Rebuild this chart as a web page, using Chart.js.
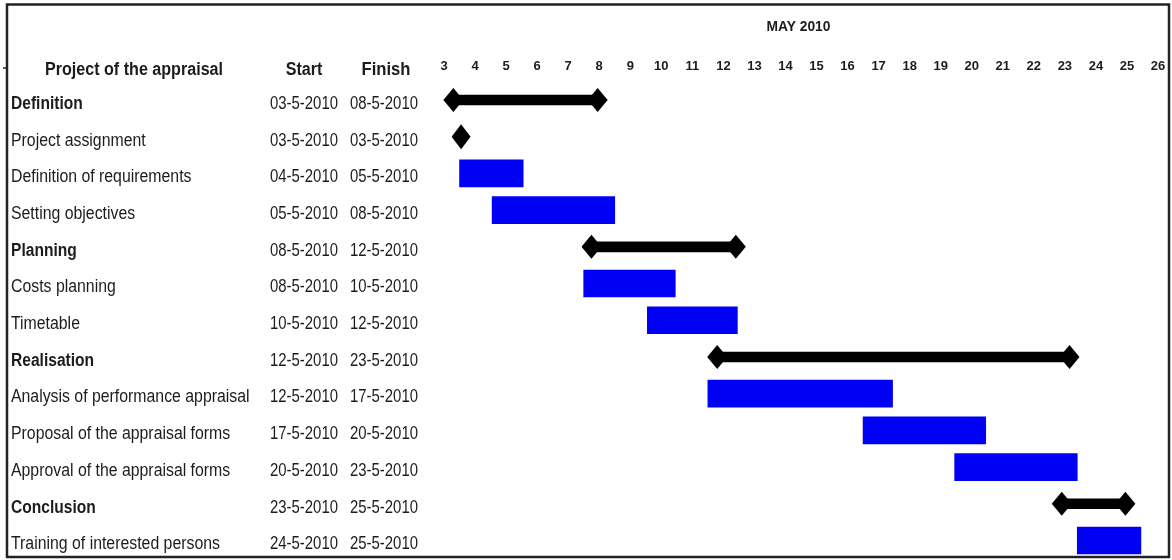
<!DOCTYPE html>
<html>
<head>
<meta charset="utf-8">
<title>Project of the appraisal - Gantt</title>
<script src="https://cdn.jsdelivr.net/npm/chart.js@4/dist/chart.umd.min.js"></script>
<style>
  html, body { margin: 0; padding: 0; background: #fff; }
  #wrap { width: 1172px; height: 560px; }
</style>
</head>
<body>
<div id="wrap"><canvas id="gantt" width="1172" height="560"></canvas></div>
<script>
// rows of the table / chart
var tasks = [
  "Definition", "Project assignment", "Definition of requirements", "Setting objectives",
  "Planning", "Costs planning", "Timetable",
  "Realisation", "Analysis of performance appraisal", "Proposal of the appraisal forms", "Approval of the appraisal forms",
  "Conclusion", "Training of interested persons"
];
var startDates = [
  "03-5-2010", "03-5-2010", "04-5-2010", "05-5-2010",
  "08-5-2010", "08-5-2010", "10-5-2010",
  "12-5-2010", "12-5-2010", "17-5-2010", "20-5-2010",
  "23-5-2010", "24-5-2010"
];
var finishDates = [
  "08-5-2010", "03-5-2010", "05-5-2010", "08-5-2010",
  "12-5-2010", "10-5-2010", "12-5-2010",
  "23-5-2010", "17-5-2010", "20-5-2010", "23-5-2010",
  "25-5-2010", "25-5-2010"
];
var days = [3, 4, 5, 6, 7, 8, 9, 10, 11, 12, 13, 14, 15, 16, 17, 18, 19, 20, 21, 22, 23, 24, 25, 26];

// bar extents in days (blue task bars)
var taskStart = [null, null, 3.5, 4.55, null, 7.5, 9.55, null, 11.5, 16.5, 19.45, null, 23.4];
var taskEnd   = [null, null, 5.55, 8.5, null, 10.45, 12.45, null, 17.45, 20.45, 23.4, null, 25.45];
// summary arrows (black), from head centre to head centre
var summaryStart = [3.3, null, null, null, 7.75, null, null, 11.8, null, null, null, 22.9, null];
var summaryEnd   = [7.95, null, null, null, 12.4, null, null, 23.15, null, null, null, 24.95, null];
// milestone diamond
var milestone = [null, 3.55, null, null, null, null, null, null, null, null, null, null, null];

var fam = '"Liberation Sans", Arial, sans-serif';
var textColor = '#1c1c1c';

function pairs(a, b) {
  return a.map(function(v, i) { return v == null ? null : [v, b[i]]; });
}

function diamond(ctx, cx, cy, w, h) {
  ctx.beginPath();
  ctx.moveTo(cx - w / 2, cy);
  ctx.lineTo(cx, cy - h / 2);
  ctx.lineTo(cx + w / 2, cy);
  ctx.lineTo(cx, cy + h / 2);
  ctx.closePath();
  ctx.fill();
}

// the reference uses a narrow font, so squeeze the text horizontally
function narrowText(ctx, text, x, y, font, align, sx) {
  ctx.save();
  ctx.font = font;
  ctx.textAlign = align;
  ctx.translate(x, y);
  ctx.scale(sx, 1);
  ctx.fillText(text, 0, 0);
  ctx.restore();
}

// arrow heads + milestone diamond, placed on the bar elements
var markersPlugin = {
  id: 'markers',
  afterDatasetsDraw: function(chart) {
    var ctx = chart.ctx;
    ctx.save();
    ctx.fillStyle = '#000';
    chart.getDatasetMeta(1).data.forEach(function(bar, i) {
      if (summaryStart[i] == null) return;
      diamond(ctx, bar.base, bar.y, 20, 24);
      diamond(ctx, bar.x, bar.y, 20, 24);
    });
    chart.getDatasetMeta(2).data.forEach(function(bar, i) {
      if (milestone[i] == null) return;
      diamond(ctx, bar.x, bar.y, 19, 25);
    });
    ctx.restore();
  }
};

// table on the left, header texts and the frame
var tablePlugin = {
  id: 'table',
  afterDraw: function(chart) {
    var ctx = chart.ctx;
    var y = chart.scales.y;
    var area = chart.chartArea;
    ctx.save();
    ctx.fillStyle = textColor;
    ctx.textBaseline = 'middle';

    var head = 'bold 17.5px ' + fam;
    narrowText(ctx, 'Project of the appraisal', 134, 70, head, 'center', 0.92);
    narrowText(ctx, 'Start', 304, 70, head, 'center', 0.92);
    narrowText(ctx, 'Finish', 386, 70, head, 'center', 0.95);
    narrowText(ctx, 'MAY 2010', (area.left + area.right) / 2 - 1, 27, 'bold 15px ' + fam, 'center', 0.92);

    tasks.forEach(function(name, i) {
      var py = y.getPixelForValue(i) + 4;
      var bold = summaryStart[i] != null;
      narrowText(ctx, name, 11, py, (bold ? 'bold ' : '') + '17.5px ' + fam, 'left', bold ? 0.89 : 0.905);
      narrowText(ctx, startDates[i], 304, py, '17.5px ' + fam, 'center', 0.853);
      narrowText(ctx, finishDates[i], 384, py, '17.5px ' + fam, 'center', 0.853);
    });

    ctx.strokeStyle = '#222';
    ctx.lineWidth = 2.5;
    ctx.strokeRect(7, 4.5, 1162, 552.5);
    ctx.lineWidth = 1.5;
    ctx.beginPath();
    ctx.moveTo(3, 68);
    ctx.lineTo(7, 68);
    ctx.stroke();
    ctx.restore();
  }
};

var chart = new Chart(document.getElementById('gantt'), {
  type: 'bar',
  data: {
    labels: tasks,
    datasets: [
      {
        label: 'Tasks',
        data: pairs(taskStart, taskEnd),
        backgroundColor: '#0000f4',
        barThickness: 27,
        grouped: false,
        borderSkipped: false,
        clip: false
      },
      {
        label: 'Phases',
        data: pairs(summaryStart, summaryEnd),
        backgroundColor: '#000',
        barThickness: 10,
        grouped: false,
        clip: false
      },
      {
        label: 'Milestone',
        data: pairs(milestone, milestone),
        backgroundColor: 'rgba(0,0,0,0)',
        barThickness: 1,
        grouped: false,
        clip: false
      }
    ]
  },
  options: {
    indexAxis: 'y',
    responsive: false,
    animation: false,
    devicePixelRatio: 1,
    layout: { padding: { left: 428.5, right: 1.6, top: 0, bottom: 19.5 } },
    plugins: {
      legend: { display: false },
      tooltip: { enabled: false }
    },
    scales: {
      x: {
        type: 'linear',
        position: 'top',
        min: 2.5,
        max: 26.4,
        afterBuildTicks: function(scale) {
          scale.ticks = days.map(function(d) { return { value: d }; });
        },
        afterFit: function(scale) {
          scale.height = 100;
          scale.paddingLeft = 0;
          scale.paddingRight = 0;
        },
        grid: { display: false, drawTicks: false },
        border: { display: false },
        ticks: {
          color: textColor,
          padding: 26,
          maxRotation: 0,
          autoSkip: false,
          font: { family: fam, size: 13, weight: 'bold' }
        }
      },
      y: {
        type: 'category',
        offset: false,
        display: false
      }
    }
  },
  plugins: [markersPlugin, tablePlugin]
});
</script>
</body>
</html>
